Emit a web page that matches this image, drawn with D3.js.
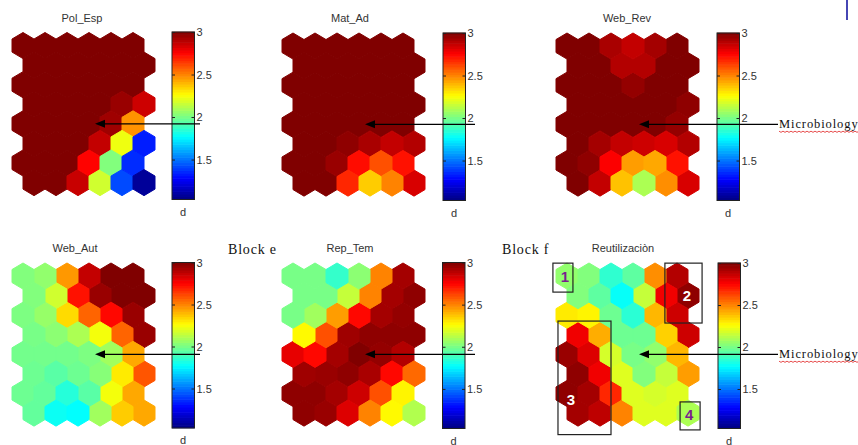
<!DOCTYPE html>
<html>
<head>
<meta charset="utf-8">
<script src="https://cdn.jsdelivr.net/npm/d3@7"></script>
<style>
  html, body { margin: 0; padding: 0; background: #fff; }
  svg { display: block; }
</style>
</head>
<body>
<svg id="chart" width="858" height="445"></svg>
<script>
// ---------------- DATA (8 rows x 6 columns of SOM component values) ----------------
const panelTitles = ["Pol_Esp", "Mat_Ad", "Web_Rev", "Web_Aut", "Rep_Tem", "Reutilizaciòn"];
const colorDomain = [1.03, 3];
const tickValues = [1.5, 2, 2.5, 3];
const colorbarLabel = "d";
const blockLabels = ["Block e", "Block f"];
const annotationText = "Microbiology";
const clusterLabels = ["1", "2", "3", "4"];

const polEsp = [
  [3, 3, 3, 3, 3, 3],
  [3, 3, 3, 3, 3, 3],
  [3, 3, 3, 3, 3, 3],
  [3, 3, 3, 3, 2.95, 2.85],
  [3, 3, 3, 3, 2.94, 2.47],
  [3, 3, 3, 2.87, 2.23, 1.33],
  [3, 3, 3, 2.75, 2.02, 1.36],
  [3, 3, 2.86, 2.17, 1.42, 1.08]
];
const matAd = [
  [3, 3, 3, 3, 3, 3],
  [3, 3, 3, 3, 3, 3],
  [3, 3, 3, 3, 3, 3],
  [3, 3, 3, 3, 3, 3],
  [3, 3, 3, 3, 3, 3],
  [3, 3, 2.97, 2.92, 2.87, 2.9],
  [3, 3, 2.95, 2.73, 2.6, 2.72],
  [3, 3, 2.68, 2.36, 2.5, 2.83]
];
const webRev = [
  [3, 3, 2.92, 2.87, 2.93, 3],
  [3, 3, 2.9, 2.9, 3, 3],
  [3, 3, 3, 2.96, 3, 3],
  [3, 3, 3, 3, 3, 2.97],
  [3, 3, 3, 3, 3, 2.96],
  [3, 2.93, 2.87, 2.85, 2.83, 2.9],
  [3, 2.97, 2.76, 2.45, 2.43, 2.72],
  [3, 2.87, 2.38, 2.1, 2.48, 2.83]
];
const webAut = [
  [2.02, 2.05, 2.46, 2.87, 3, 3],
  [2.02, 2.17, 2.72, 2.95, 3, 3],
  [2.01, 2.06, 2.33, 2.56, 2.74, 2.95],
  [2.0, 2.04, 2.1, 2.24, 2.56, 2.95],
  [1.99, 1.99, 1.99, 2.01, 2.08, 2.43],
  [1.98, 1.94, 1.98, 2.03, 2.3, 2.59],
  [1.98, 1.96, 1.84, 1.94, 2.24, 2.43],
  [1.96, 1.79, 1.77, 2.08, 2.36, 2.43]
];
const repTem = [
  [2.0, 2.0, 1.87, 2.04, 2.5, 2.93],
  [2.0, 2.0, 2.15, 2.5, 2.93, 2.97],
  [2.0, 2.08, 2.45, 2.74, 2.93, 2.96],
  [2.27, 2.6, 2.94, 2.97, 2.97, 2.97],
  [2.8, 2.74, 2.93, 3.0, 2.96, 2.9],
  [2.94, 2.95, 2.97, 2.92, 2.74, 2.55],
  [2.97, 2.97, 2.93, 2.85, 2.6, 2.28],
  [2.97, 2.95, 2.82, 2.5, 2.27, 2.11]
];
const reutilizacion = [
  [2.05, 2.02, 1.86, 1.95, 2.48, 2.9],
  [2.02, 1.95, 1.78, 2.15, 2.78, 2.97],
  [2.3, 2.28, 1.98, 1.85, 2.4, 2.85],
  [2.78, 2.42, 1.98, 1.98, 2.35, 2.85],
  [2.95, 2.82, 2.18, 2.0, 2.05, 2.4],
  [2.97, 2.78, 2.2, 2.02, 2.15, 2.45],
  [2.97, 2.93, 2.68, 2.2, 2.18, 2.2],
  [2.93, 2.88, 2.5, 2.2, 2.2, 2.1]
];
const panelValues = [polEsp, matAd, webRev, webAut, repTem, reutilizacion];

// ---------------- LAYOUT ----------------
const layout = [
  { left: 12,  top: 32.5, cbLeft: 172,   cbTop: 32,    cbBottom: 199.5, titleY: 22,  titleDx: -1.5, arrowFrom: 200, micro: false },
  { left: 282, top: 33,   cbLeft: 443,   cbTop: 33,    cbBottom: 200.5, titleY: 22,  titleDx: -3.5, arrowFrom: 475, micro: false },
  { left: 556, top: 33,   cbLeft: 717,   cbTop: 33,    cbBottom: 200.5, titleY: 22,  titleDx: -0.5, arrowFrom: 778, micro: true },
  { left: 12,  top: 263,  cbLeft: 172,   cbTop: 262.5, cbBottom: 428,   titleY: 252, titleDx: -8.5, arrowFrom: 200, micro: false },
  { left: 282, top: 263,  cbLeft: 442.5, cbTop: 262.5, cbBottom: 428.5, titleY: 252, titleDx: -3.5, arrowFrom: 475, micro: false },
  { left: 556, top: 263,  cbLeft: 718,   cbTop: 263,   cbBottom: 428.5, titleY: 252, titleDx: -4.5, arrowFrom: 778, micro: true }
];
const hexW = 22, hexH = 26.1, rowStep = hexH * 0.75;
const cbWidth = 22.5;

function jet(t) {
  const c = v => Math.max(0, Math.min(1, v));
  const r = c(1.5 - Math.abs(4 * t - 3));
  const g = c(1.5 - Math.abs(4 * t - 2));
  const b = c(1.5 - Math.abs(4 * t - 1));
  return d3.rgb(Math.round(r * 255), Math.round(g * 255), Math.round(b * 255)).toString();
}
const color = d3.scaleSequential(jet).domain(colorDomain).clamp(true);

const svg = d3.select("#chart");
const sansFont = "'Liberation Sans', Arial, sans-serif";
const serifFont = "'Liberation Serif', 'Times New Roman', serif";

const hexPath = (() => {
  const w = hexW / 2, h = hexH / 2;
  const pts = [[0, -h], [w, -h / 2], [w, h / 2], [0, h], [-w, h / 2], [-w, -h / 2]];
  return "M" + pts.map(p => p.join(",")).join("L") + "Z";
})();

const panelScales = [];

panelValues.forEach((vals, pi) => {
  const L = layout[pi];
  const g = svg.append("g");
  // scales: column unit -> x center, row index -> y center
  const x = d3.scaleLinear().domain([0, 6]).range([L.left + hexW / 2, L.left + hexW / 2 + 6 * hexW]);
  const y = d3.scaleLinear().domain([0, 7]).range([L.top + hexH / 2, L.top + hexH / 2 + 7 * rowStep]);
  panelScales.push({ x, y });

  const cells = [];
  vals.forEach((row, r) => row.forEach((v, c) => cells.push({ r, c, v })));
  // draw lighter values last so they sit on top at shared edges
  cells.sort((a, b) => b.v - a.v);

  g.selectAll("path.hex").data(cells).join("path")
    .attr("class", "hex")
    .attr("d", hexPath)
    .attr("transform", d => `translate(${x(d.c + (d.r % 2 ? 0.5 : 0))},${y(d.r)})`)
    .attr("fill", d => color(d.v))
    .attr("stroke", d => color(d.v))
    .attr("stroke-width", 1)
    .attr("stroke-linejoin", "round");

  // title
  g.append("text")
    .attr("x", (x(-0.5) + x(6)) / 2 + L.titleDx)
    .attr("y", L.titleY)
    .attr("text-anchor", "middle")
    .attr("font-family", sansFont)
    .attr("font-size", 11)
    .attr("fill", "#333")
    .text(panelTitles[pi]);

  // colorbar
  const cbScale = d3.scaleLinear().domain(colorDomain).range([L.cbBottom, L.cbTop]);
  const nSteps = 64;
  const steps = d3.range(nSteps).map(i => colorDomain[0] + (i + 0.5) * (colorDomain[1] - colorDomain[0]) / nSteps);
  const stepH = (L.cbBottom - L.cbTop) / nSteps;
  g.selectAll("rect.cb").data(steps).join("rect")
    .attr("class", "cb")
    .attr("x", L.cbLeft)
    .attr("width", cbWidth)
    .attr("y", d => cbScale(d) - stepH / 2 - 0.3)
    .attr("height", stepH + 0.6)
    .attr("fill", d => color(d));
  g.append("rect")
    .attr("x", L.cbLeft).attr("y", L.cbTop)
    .attr("width", cbWidth).attr("height", L.cbBottom - L.cbTop)
    .attr("fill", "none").attr("stroke", "#222").attr("stroke-width", 1);

  const axis = d3.axisRight(cbScale).tickValues(tickValues).tickSize(-3).tickPadding(3)
    .tickFormat(d3.format("~g"));
  const ax = g.append("g").attr("transform", `translate(${L.cbLeft + cbWidth},0)`).call(axis);
  ax.select(".domain").remove();
  ax.selectAll("line").attr("stroke", "#222");
  ax.selectAll("text").attr("font-family", sansFont).attr("font-size", 11).attr("fill", "#333")
    .attr("x", 2);
  const axL = d3.axisLeft(cbScale).tickValues(tickValues).tickSize(-3).tickFormat("");
  const axl = g.append("g").attr("transform", `translate(${L.cbLeft},0)`).call(axL);
  axl.select(".domain").remove();
  axl.selectAll("line").attr("stroke", "#222");

  g.append("text")
    .attr("x", L.cbLeft + 8).attr("y", L.cbBottom + 16)
    .attr("font-family", sansFont).attr("font-size", 11).attr("fill", "#333")
    .text(colorbarLabel);

  // arrow to node (row 4, col 3)
  const ay = y(4), tip = x(3) + 6;
  g.append("line")
    .attr("x1", L.arrowFrom).attr("x2", tip + 8)
    .attr("y1", ay).attr("y2", ay)
    .attr("stroke", "#000").attr("stroke-width", 1.3);
  g.append("path")
    .attr("d", `M${tip},${ay}L${tip + 10},${ay - 4}L${tip + 10},${ay + 4}Z`)
    .attr("fill", "#000");

  if (L.micro) {
    const tx = L.arrowFrom + 1;
    g.append("text")
      .attr("x", tx).attr("y", ay + 4)
      .attr("font-family", serifFont).attr("font-size", 12.5)
      .attr("letter-spacing", 0.9)
      .attr("fill", "#111")
      .text(annotationText);
    const wave = d3.range(0, 84, 2).map((d, i) => [tx + d, ay + 7 + (i % 2 ? 1 : -0.2)]);
    g.append("path")
      .attr("d", d3.line()(wave))
      .attr("fill", "none").attr("stroke", "#e02020").attr("stroke-width", 0.8);
  }
});

// Block labels
svg.append("text").attr("x", 228).attr("y", 254)
  .attr("font-family", serifFont).attr("font-size", 14).attr("letter-spacing", 0.8)
  .attr("fill", "#111").text(blockLabels[0]);
svg.append("text").attr("x", 502).attr("y", 254)
  .attr("font-family", serifFont).attr("font-size", 14).attr("letter-spacing", 0.8)
  .attr("fill", "#111").text(blockLabels[1]);

// Cluster boxes on Reutilización (grid units: column, row)
const boxes = [
  { x0: -0.64, x1: 0.27, y0: -0.66, y1: 0.82, label: clusterLabels[0], lr: 0, lc: -0.1, fill: "#7a1f8e" },
  { x0: 4.45, x1: 6.14, y0: -0.66, y1: 2.4, label: clusterLabels[1], lr: 1, lc: 5.45, fill: "#ffffff" },
  { x0: -0.41, x1: 2.0, y0: 2.3, y1: 8.1, label: clusterLabels[2], lr: 6.3, lc: 0.18, fill: "#ffffff" },
  { x0: 5.14, x1: 6.05, y0: 6.43, y1: 7.86, label: clusterLabels[3], lr: 7.05, lc: 5.55, fill: "#7a1f8e" }
];
const s6 = panelScales[5];
const colPx = c => s6.x(c);
boxes.forEach(b => {
  svg.append("rect")
    .attr("x", colPx(b.x0)).attr("y", s6.y(b.y0))
    .attr("width", colPx(b.x1) - colPx(b.x0)).attr("height", s6.y(b.y1) - s6.y(b.y0))
    .attr("fill", "none").attr("stroke", "#222").attr("stroke-width", 1.2);
  svg.append("text")
    .attr("x", colPx(b.lc)).attr("y", s6.y(b.lr))
    .attr("text-anchor", "middle").attr("dominant-baseline", "central")
    .attr("font-family", sansFont).attr("font-weight", "bold").attr("font-size", 15)
    .attr("fill", b.fill).text(b.label);
});

// small blue mark at the top right
svg.append("rect").attr("x", 846).attr("y", 0).attr("width", 2).attr("height", 20).attr("fill", "#4646b4");
</script>
</body>
</html>
